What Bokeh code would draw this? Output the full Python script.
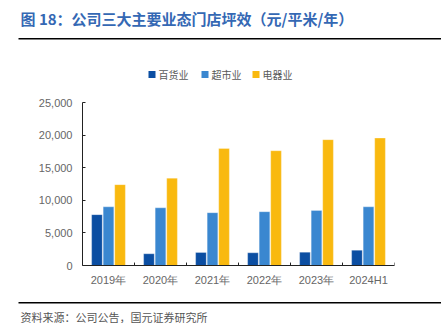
from bokeh.plotting import figure
from bokeh.layouts import column
from bokeh.models import (ColumnDataSource, FactorRange, Range1d, LinearAxis, CategoricalAxis, FixedTicker,
                          NumeralTickFormatter, Label)
from bokeh.transform import dodge
from bokeh.embed import file_html
from bokeh.resources import INLINE

categories = ["2019年", "2020年", "2021年", "2022年", "2023年", "2024H1"]
dept_store = [7800, 1800, 2000, 1950, 2050, 2350]
supermarket = [9000, 8850, 8100, 8250, 8450, 9000]
electronics = [12400, 13400, 17950, 17600, 19300, 19550]
series_names = ["百货业", "超市业", "电器业"]
y_ticks = [0, 5000, 10000, 15000, 20000, 25000]

colors = ["#0B4EA2", "#3A87D0", "#F9B90F"]
W, H = 441, 323
TOP_H, MAIN_H = 95, 200
BOT_H = H - TOP_H - MAIN_H
FL, FT, FB = 82, 102, 265  # frame left / top / bottom on the whole canvas


def blank(height, y0):
    """A figure whose data coordinates equal canvas pixels (y grows downward)."""
    f = figure(width=W, height=height, x_range=Range1d(0, W), y_range=Range1d(y0 + height, y0),
               output_backend="svg", toolbar_location=None,
               x_axis_location=None, y_axis_location=None, min_border=0)
    f.frame_align = False
    f.outline_line_color = None
    f.xgrid.visible = False
    f.ygrid.visible = False
    f.background_fill_color = "white"
    f.border_fill_color = "white"
    return f


def rect(f, l, t, r, b, color):
    f.quad(left=l, right=r, top=t, bottom=b, fill_color=color, line_color=None)


# ---------- header: title, rule, legend ----------
top = blank(TOP_H, 0)
top.add_layout(Label(x=20, y=18, text="图 18：公司三大主要业态门店坪效（元/平米/年）",
                     text_font="Noto Sans CJK SC", text_font_style="bold", text_font_size="15px",
                     text_color="#3468B4", text_baseline="middle"))
rect(top, 18, 37.5, W, 39, "black")
legend_x = [148, 201, 252]
for lx, name, col in zip(legend_x, series_names, colors):
    rect(top, lx, 70.5, lx + 7, 77.5, col)
    top.add_layout(Label(x=lx + 10, y=74, text=name, text_font="Noto Sans CJK SC",
                         text_font_size="10px", text_color="#595959", text_baseline="middle"))

# ---------- main chart ----------
src = ColumnDataSource(dict(cat=categories, a=dept_store, b=supermarket, c=electronics))

p = figure(width=W, height=MAIN_H, x_range=FactorRange(*categories, range_padding=0),
           y_range=Range1d(0, 25000), output_backend="svg", toolbar_location=None,
           x_axis_location=None, y_axis_location=None,
           min_border_left=FL, min_border_right=47, min_border_top=FT - TOP_H,
           min_border_bottom=TOP_H + MAIN_H - FB)
p.frame_align = False
p.outline_line_color = None
p.xgrid.visible = False
p.ygrid.visible = False
p.background_fill_color = "white"
p.border_fill_color = "white"

for off, col_name, c in zip([-0.222, 0.0, 0.222], ["a", "b", "c"], colors):
    p.vbar(x=dodge("cat", off, range=p.x_range), top=col_name, width=0.205, source=src,
           fill_color=c, line_color="white", line_alpha=0.5, line_width=0.6)

# small inward ticks at category boundaries
tick_h = 450
p.segment(x0=dodge("cat", 0.5, range=p.x_range), x1=dodge("cat", 0.5, range=p.x_range),
          y0=0, y1=tick_h, source=src, line_color="#222222", line_width=1)

ya = LinearAxis(ticker=FixedTicker(ticks=y_ticks), formatter=NumeralTickFormatter(format="0,0"))
ya.major_tick_in = 3
ya.major_tick_out = 0
ya.minor_tick_line_color = None
ya.axis_line_color = "#222222"
ya.major_tick_line_color = "#222222"
ya.major_label_text_font = "Liberation Sans"
ya.major_label_text_font_size = "11px"
ya.major_label_text_color = "#666666"
ya.major_label_standoff = 10
p.add_layout(ya, "left")

xa = CategoricalAxis()
xa.major_tick_in = 0
xa.major_tick_out = 0
xa.axis_line_color = "#222222"
xa.major_label_text_font = "Liberation Sans"
xa.major_label_text_font_size = "11px"
xa.major_label_text_color = "#666666"
xa.major_label_standoff = 8
p.add_layout(xa, "below")

# ---------- footer: rule and source ----------
bot = blank(BOT_H, TOP_H + MAIN_H)
rect(bot, 18, 301.5, W, 303, "black")
bot.add_layout(Label(x=20, y=316, text="资料来源：公司公告，国元证券研究所",
                     text_font="Noto Sans CJK SC", text_font_size="11px",
                     text_color="#555555", text_baseline="middle"))

layout = column(top, p, bot, spacing=0)
open("out.html", "w").write(file_html(layout, INLINE))
